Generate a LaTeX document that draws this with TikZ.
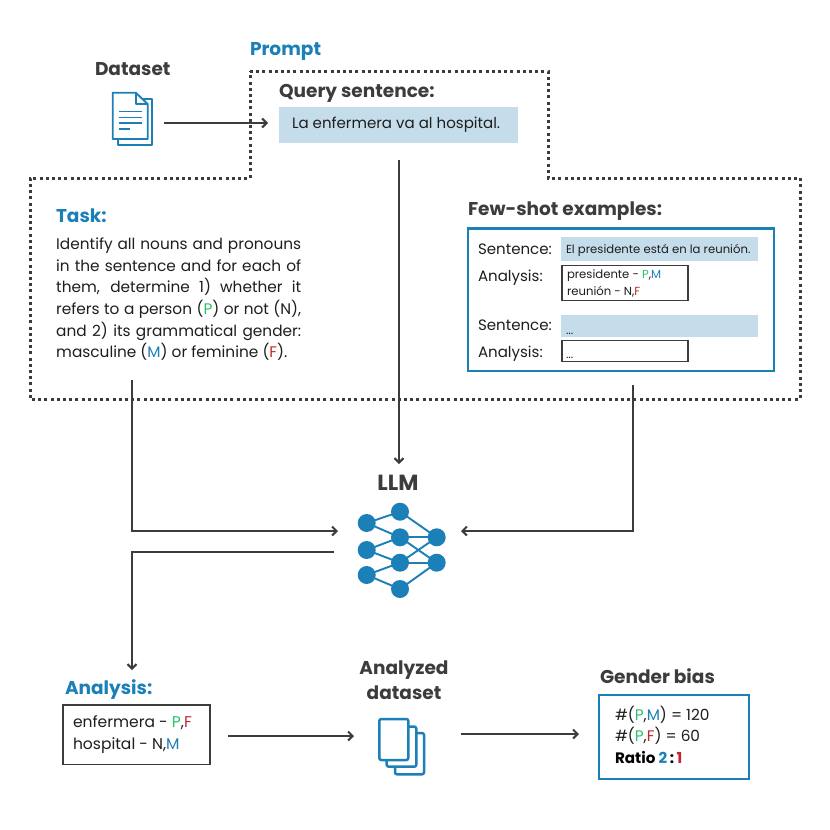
\documentclass[tikz,border=0pt]{standalone}
\usepackage{fontspec}
\setmainfont{Poppins}
\usetikzlibrary{arrows.meta,calc}
\definecolor{ink}{HTML}{3C3C3C}
\definecolor{txt}{HTML}{1E1E1E}
\definecolor{blu}{HTML}{1B80B8}
\definecolor{hl}{HTML}{C5DDEA}
\definecolor{grn}{HTML}{2BC06E}
\definecolor{rd}{HTML}{C0272D}
\newcommand{\fs}[1]{\fontsize{#1}{#1}\selectfont}
\newcommand{\Pp}{\textcolor{grn}{P}}
\newcommand{\Mm}{\textcolor{blu}{M}}
\newcommand{\Ff}{\textcolor{rd}{F}}
\tikzset{
  x=1bp,y=-1bp,
  conn/.style={draw=ink,line width=2.1bp,-{Straight Barb[length=4.5bp,width=9bp,line width=2.1bp]}},
  lbl/.style={anchor=base west,inner sep=0pt,outer sep=0pt,text=ink,font=\fs{18.6}\bfseries},
  lblb/.style={lbl,text=blu},
  body/.style={anchor=base west,inner sep=0pt,outer sep=0pt,text=txt,font=\fs{15.1}},
  small/.style={anchor=base west,inner sep=0pt,outer sep=0pt,text=txt,font=\fs{11.7}},
  hlbox/.style={fill=hl,draw=none,anchor=north west,inner sep=0pt,outer sep=0pt},
  graybox/.style={draw=ink,fill=white,line width=1.6bp,anchor=north west,inner sep=0pt,outer sep=0pt},
  blubox/.style={draw=blu,line width=2.6bp,anchor=north west,inner sep=0pt,outer sep=0pt},
  ghost/.style={inner sep=0pt,outer sep=0pt,draw=none},
  neuron/.style={circle,fill=blu,draw=none,minimum size=18bp,inner sep=0pt},
  syn/.style={draw=blu,line width=1.9bp},
  icon/.style={draw=blu,line width=1.9bp,line join=round,fill=white},
  dotline/.style={draw=ink,line width=3bp,dash pattern=on 3bp off 3.2bp},
}
\begin{document}
\begin{tikzpicture}
\useasboundingbox (0,0) rectangle (830,830);
\fill[white] (0,0) rectangle (830,830);

% dotted prompt outline
\draw[dotline] (250,71) -- (548,71) -- (548,178) -- (800,178) -- (800,399) -- (30,399) -- (30,178) -- (250,178) -- cycle;

% headings
\node[lblb] (prompt) at (250,55) {Prompt};
\node[lbl] (dataset) at (95,75) {Dataset};
\node[lbl] (querylbl) at (279,97) {Query sentence:};
\node[lblb] (tasklbl) at (56,222) {Task:};
\node[lbl] (fewlbl) at (468,215) {Few-shot examples:};
\node[lblb] (anlbl) at (65,694) {Analysis:};
\node[lbl] (genderlbl) at (600,683) {Gender bias};
\node[lbl,anchor=base,font=\fs{22}\bfseries] (llm) at (398,490.5) {LLM};
\node[lbl,anchor=base] (and1) at (404,674) {Analyzed};
\node[lbl,anchor=base] (and2) at (404,699) {dataset};

% query
\node[hlbox,minimum width=239bp,minimum height=35.5bp] (query) at (279,107) {};
\node[body] (querytxt) at (292,128) {La enfermera va al hospital.};

% task
\node[anchor=north west,inner sep=0pt,text width=245bp,align=justify,text=txt,font=\fontsize{15.4}{21.6}\selectfont] (task) at (56,238)
{Identify all nouns and pronouns\linebreak
in the sentence and for each of\linebreak
them, determine 1) whether it\linebreak
refers to a person (\Pp) or not (N),\linebreak
and 2) its grammatical gender:\linebreak
masculine (\Mm) or feminine (\Ff).};

% few-shot box
\node[blubox,minimum width=306bp,minimum height=142.5bp] (fewbox) at (468,228.3) {};
\node[body] (s1) at (478,254) {Sentence:};
\node[body] (a1) at (478,281) {Analysis:};
\node[body] (s2) at (478,330) {Sentence:};
\node[body] (a2) at (478,357) {Analysis:};
\node[hlbox,minimum width=197bp,minimum height=23.5bp] (h1) at (561,237.3) {};
\node[small] (h1t) at (566,253) {El presidente está en la reunión.};
\node[graybox,minimum width=126bp,minimum height=35bp] (b1) at (562,265.3) {};
\node[small] (b1a) at (567,278) {presidente - \Pp,\Mm};
\node[small] (b1b) at (567,295) {reunión - N,\Ff};
\node[hlbox,minimum width=197bp,minimum height=21.5bp] (h2) at (561,315) {};
\node[small] (h2t) at (566,334) {...};
\node[graybox,minimum width=126bp,minimum height=21bp] (b2) at (562,340.3) {};
\node[small] (b2t) at (566,358) {...};

% analysis box
\node[graybox,line width=1.4bp,minimum width=147bp,minimum height=59.5bp] (anbox) at (63,705) {};
\node[body,font=\fs{15.6}] (an1) at (73,727) {enfermera - \Pp,\Ff};
\node[body,font=\fs{15.6}] (an2) at (73,749) {hospital - N,\Mm};

% gender bias box
\node[blubox,minimum width=150bp,minimum height=84bp] (genbox) at (599,695) {};
\node[body,font=\fs{15.4}] (g1) at (615,720) {\#(\Pp,\Mm) = 120};
\node[body,font=\fs{15.4}] (g2) at (615,741) {\#(\Pp,\Ff) = 60};
\node[body,font=\fs{15.2}\bfseries,text=black] (g3) at (615,763) {Ratio \textcolor{blu}{2}\,:\,\textcolor{rd}{1}};

% dataset icon
\node[ghost,minimum width=40bp,minimum height=52bp] (dsicon) at (132.5,118.5) {};
\draw[icon] (117.7,139) -- (117.7,144.7) -- (152.3,144.7) -- (152.3,98.7) -- (143,98.7) -- (143,139) -- cycle;
\draw[icon] (112.7,92.7) -- (135.7,92.7) -- (147.7,104) -- (147.7,139) -- (112.7,139) -- cycle;
\draw[icon,fill=none] (135.7,92.7) -- (135.7,104) -- (147.7,104);
\foreach \yy/\xe in {111.3/142.3,117.3/142.3,123/142.3,129/129.5}
  \draw[blu,line width=1.5bp] (119,\yy) -- (\xe,\yy);

% analysed dataset icon
\node[ghost,minimum width=50bp,minimum height=58bp] (anicon) at (401.5,746.5) {};
\draw[icon,rounded corners=2bp,line width=2.5bp] (395,733) rectangle (424,774.3);
\draw[icon,rounded corners=2bp,line width=2.5bp] (386.7,726.7) rectangle (416.3,766.7);
\draw[icon,rounded corners=2bp,line width=2.5bp] (379.3,719) rectangle (408.3,760);

% network
\foreach \a/\b/\c/\d in {366.7/523/400/511.7,366.7/523/400/537.3,366.7/550/400/537.3,366.7/550/400/562.7,366.7/575/400/562.7,366.7/575/400/589,400/511.7/436.7/537.3,400/537.3/436.7/537.3,400/537.3/436.7/562.7,400/562.7/436.7/537.3,400/562.7/436.7/562.7,400/589/436.7/562.7}
  \draw[syn] (\a,\b) -- (\c,\d);
\node[neuron] (l1) at (366.7,523) {};
\node[neuron] (l2) at (366.7,550) {};
\node[neuron] (l3) at (366.7,575) {};
\node[neuron] (m1) at (400,511.7) {};
\node[neuron] (m2) at (400,537.3) {};
\node[neuron] (m3) at (400,562.7) {};
\node[neuron] (m4) at (400,589) {};
\node[neuron] (r1) at (436.7,537.3) {};
\node[neuron] (r2) at (436.7,562.7) {};

% connector ends
\coordinate (taskout) at (132,380);
\coordinate (fewout) at (633,385);
\coordinate (llminl) at (338,531);
\coordinate (llminr) at (461,531);
\coordinate (llmout) at (334,552);
\coordinate (anin) at (132,670);
\coordinate (qout) at (399,160);
\coordinate (llmtop) at (399,464);
\coordinate (dsout) at (164,123);
\coordinate (qin) at (268,123);
\coordinate (anout) at (228,736);
\coordinate (adin) at (354,736);
\coordinate (adout) at (461,734);
\coordinate (genin) at (579,734);

\draw[conn] (dsout) -- (qin);
\draw[conn] (qout) -- (llmtop);
\draw[conn] (taskout) |- (llminl);
\draw[conn] (fewout) |- (llminr);
\draw[conn] (llmout) -| (anin);
\draw[conn] (anout) -- (adin);
\draw[conn] (adout) -- (genin);
\end{tikzpicture}
\end{document}
